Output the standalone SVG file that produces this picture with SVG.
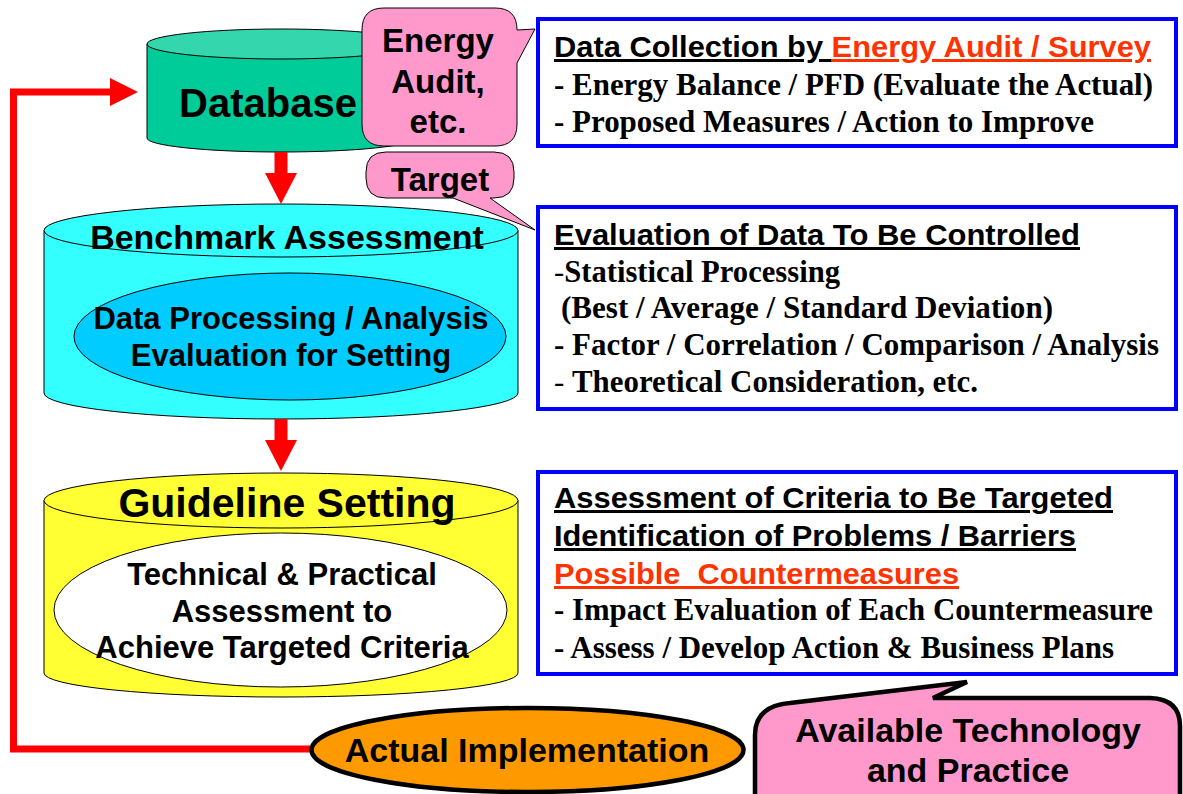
<svg xmlns="http://www.w3.org/2000/svg" width="1183" height="794" viewBox="0 0 1183 794">
<style>
.sans{font-family:"Liberation Sans",Arial,sans-serif;font-weight:bold;fill:#000}
.serif{font-family:"Liberation Serif","Times New Roman",serif;font-weight:bold;fill:#000;font-size:32px}
.head{font-family:"Liberation Sans",Arial,sans-serif;font-weight:bold;font-size:30px;white-space:pre}
.ul{text-decoration:underline}
.red{fill:#FF3300}
.cyl{stroke:#000;stroke-width:1}
.box{fill:#fff;stroke:#0000FF;stroke-width:4}
.bubble{fill:#FF99CC;stroke:#000;stroke-width:1}
.mid{text-anchor:middle}
.conn{fill:none;stroke:#FF0000}
</style>
<defs>
<marker id="headDown" markerUnits="userSpaceOnUse" markerWidth="34" markerHeight="34" viewBox="0 -17 34 34" refX="2" refY="0" orient="auto">
<path d="M0,-16 L31,0 L0,16 Z" fill="#FF0000"/>
</marker>
<marker id="headLoop" markerUnits="userSpaceOnUse" markerWidth="30" markerHeight="30" viewBox="0 -15 30 30" refX="2" refY="0" orient="auto">
<path d="M0,-14 L28,0 L0,14 Z" fill="#FF0000"/>
</marker>
</defs>
<rect width="1183" height="794" fill="#fff"/>

<g id="database">
<path class="cyl" d="M147,44 V138 A134,14 0 0 0 415,138 V44 Z" fill="#00CC99"/>
<ellipse class="cyl" cx="281" cy="44" rx="134" ry="15" fill="#33D6AD"/>
<text class="sans mid" x="268" y="117" font-size="40">Database</text>
</g>

<g id="benchmark">
<path class="cyl" d="M44,230.5 V393 A237,26 0 0 0 518,393 V230.5 Z" fill="#33FFFF"/>
<ellipse class="cyl" cx="281" cy="230.5" rx="237" ry="26.5" fill="#33FFFF"/>
<ellipse class="cyl" cx="290" cy="336.5" rx="216" ry="63.5" fill="#00CCFF"/>
<text class="sans mid" x="287" y="249" font-size="34">Benchmark Assessment</text>
<text class="sans mid" x="291" y="329" font-size="31">Data Processing / Analysis</text>
<text class="sans mid" x="291" y="366" font-size="31">Evaluation for Setting</text>
</g>

<g id="guideline">
<path class="cyl" d="M44,500.5 V673 A237,24 0 0 0 518,673 V500.5 Z" fill="#FFFF33"/>
<ellipse class="cyl" cx="281" cy="500.5" rx="237" ry="27.5" fill="#FFFF33"/>
<ellipse class="cyl" cx="280.5" cy="610" rx="226.5" ry="77" fill="#FFFFFF"/>
<text class="sans mid" x="287" y="517" font-size="41">Guideline Setting</text>
<text class="sans mid" x="282" y="585" font-size="31">Technical &amp; Practical</text>
<text class="sans mid" x="282" y="622" font-size="31">Assessment to</text>
<text class="sans mid" x="282" y="658" font-size="31">Achieve Targeted Criteria</text>
</g>

<g id="connectors">
<line class="conn" x1="281" y1="152" x2="281" y2="175" stroke-width="13" marker-end="url(#headDown)"/>
<line class="conn" x1="281" y1="419" x2="281" y2="442" stroke-width="13" marker-end="url(#headDown)"/>
<path class="conn" d="M312,749 H13.5 V92 H112" stroke-width="7" stroke-linejoin="miter" marker-end="url(#headLoop)"/>
</g>

<g id="energy-audit-callout">
<path class="bubble" d="M384,8 H495 Q517,8 517,30 L535,29 L517,63 V124 Q517,146 495,146 H384 Q362,146 362,124 V30 Q362,8 384,8 Z"/>
<text class="sans mid" x="438" y="52" font-size="33">Energy</text>
<text class="sans mid" x="438" y="93" font-size="33">Audit,</text>
<text class="sans mid" x="438" y="133" font-size="33">etc.</text>
</g>

<g id="target-callout">
<path class="bubble" d="M386,152 H494 Q514,152 514,172 V178 Q514,198 494,198 H490 L535,230 L453,198 H386 Q366,198 366,178 V172 Q366,152 386,152 Z"/>
<text class="sans mid" x="440" y="191" font-size="33">Target</text>
</g>

<g id="box-data-collection">
<rect class="box" x="538" y="19" width="638" height="127"/>
<text class="head" x="554" y="57" textLength="597" lengthAdjust="spacingAndGlyphs"><tspan class="ul">Data Collection by </tspan><tspan class="ul red">Energy Audit / Survey</tspan></text>
<text class="serif" x="554" y="95" textLength="599" lengthAdjust="spacingAndGlyphs">- Energy Balance / PFD (Evaluate the Actual)</text>
<text class="serif" x="554" y="132" textLength="540" lengthAdjust="spacingAndGlyphs">- Proposed Measures / Action to Improve</text>
</g>

<g id="box-evaluation">
<rect class="box" x="538" y="207" width="638" height="202"/>
<text class="head ul" x="554" y="245" textLength="526" lengthAdjust="spacingAndGlyphs">Evaluation of Data To Be Controlled</text>
<text class="serif" x="554" y="282" textLength="286" lengthAdjust="spacingAndGlyphs"><tspan font-weight="normal">-</tspan>Statistical Processing</text>
<text class="serif" x="561" y="318" textLength="492" lengthAdjust="spacingAndGlyphs">(Best / Average / Standard Deviation)</text>
<text class="serif" x="554" y="355" textLength="605" lengthAdjust="spacingAndGlyphs">- Factor / Correlation / Comparison / Analysis</text>
<text class="serif" x="554" y="392" textLength="424" lengthAdjust="spacingAndGlyphs" style="white-space:pre"><tspan font-weight="normal">- </tspan>Theoretical Consideration, etc.</text>
</g>

<g id="box-assessment">
<rect class="box" x="538" y="472" width="638" height="202"/>
<text class="head ul" x="554" y="508" textLength="559" lengthAdjust="spacingAndGlyphs">Assessment of Criteria to Be Targeted</text>
<text class="head ul" x="554" y="546" textLength="522" lengthAdjust="spacingAndGlyphs">Identification of Problems / Barriers</text>
<text class="head ul red" x="554" y="584" textLength="405" lengthAdjust="spacingAndGlyphs">Possible  Countermeasures</text>
<text class="serif" x="554" y="620" textLength="599" lengthAdjust="spacingAndGlyphs">- Impact Evaluation of Each Countermeasure</text>
<text class="serif" x="554" y="658" textLength="560" lengthAdjust="spacingAndGlyphs">- Assess / Develop Action &amp; Business Plans</text>
</g>

<g id="actual-implementation">
<ellipse cx="527.5" cy="750" rx="216" ry="42" fill="#FF9900" stroke="#000" stroke-width="4.5"/>
<text class="sans mid" x="527" y="762" font-size="34">Actual Implementation</text>
</g>

<g id="available-technology">
<path d="M755,800 V735 Q755,706 790,703 L967,682 L933,698 L1150,698 Q1180,699 1180,726 V800 Z" fill="#FF99CC" stroke="#000" stroke-width="4.5" stroke-linejoin="miter"/>
<text class="sans mid" x="968" y="742" font-size="34">Available Technology</text>
<text class="sans mid" x="968" y="782" font-size="34">and Practice</text>
</g>
</svg>
